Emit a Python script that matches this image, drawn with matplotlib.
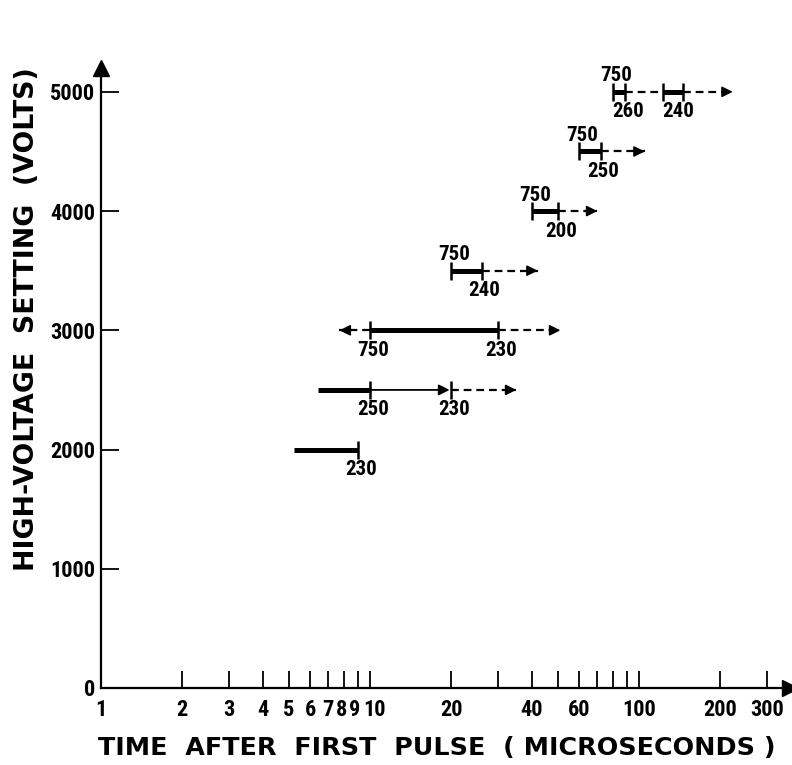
import matplotlib
matplotlib.use("Agg")
import matplotlib.pyplot as plt
from matplotlib import font_manager
from matplotlib.transforms import ScaledTranslation

# ---- data -------------------------------------------------------------
# heavy solid bars: high-voltage setting, start / end time (microseconds)
bar_volts = [2000, 2500, 3000, 3500, 4000, 4500, 5000, 5000]
bar_start = [5.2, 6.4, 10, 20, 40, 60, 80, 123]
bar_end = [9.0, 10, 30, 26, 50, 72, 89, 146]
bar_start_mark = [False, False, True, True, True, True, True, True]

# light solid arrow
thin_volts = [2500]
thin_start = [10]
thin_end = [20]

# dashed extensions
dash_volts = [2500, 3000, 3000, 3500, 4000, 4500, 5000, 5000]
dash_start = [20, 10, 30, 26, 50, 72, 89, 146]
dash_end = [35, 7.7, 51, 42, 70, 105, 123, 223]
dash_arrow = [True, True, True, True, True, True, False, True]

# annotations along the bars
lab_volts = [2000, 2500, 2500, 3000, 3000, 3500, 3500, 4000, 4000, 4500, 4500, 5000, 5000, 5000]
lab_x = [9.0, 10, 20, 10, 30, 20, 26, 40, 50, 60, 72, 80, 89, 136]
lab_text = ["230", "250", "230", "750", "230", "750", "240", "750", "200", "750", "250", "750", "260", "240"]
lab_side = ["below", "below", "below", "below", "below", "above", "below", "above", "below",
            "above", "below", "above", "below", "below"]

x_ticks = [1, 2, 3, 4, 5, 6, 7, 8, 9, 10, 20, 30, 40, 50, 60, 70, 80, 90, 100, 200, 300]
x_ticklabels = ["1", "2", "3", "4", "5", "6", "7", "8", "9", "10", "20", "", "40", "", "60",
                "", "", "", "100", "200", "300"]
y_ticks = [0, 1000, 2000, 3000, 4000, 5000]
y_ticklabels = ["0", "1000", "2000", "3000", "4000", "5000"]

# ---- fonts ------------------------------------------------------------
installed = {f.name for f in font_manager.fontManager.ttflist}
narrow_candidates = ["Roboto Condensed", "Archivo Narrow", "PT Sans Narrow",
                     "Liberation Sans Narrow", "Open Sans Condensed", "Barlow Condensed"]
narrow = next((n for n in narrow_candidates if n in installed), None)
if narrow is None:
    num_font = dict(family=["DejaVu Sans"], weight="bold", stretch="condensed")
    num_size = 13
else:
    num_font = dict(family=[narrow, "DejaVu Sans"], weight="bold")
    num_size = 16

# ---- figure -----------------------------------------------------------
fig = plt.figure(figsize=(7.92, 7.65), dpi=100)
ax = fig.add_axes([101 / 792, 77 / 765, 689 / 792, 620 / 765])
ax.set_xscale("log")
ax.set_xlim(1, 364)
ax.set_ylim(0, 5200)

for s in ("top", "right"):
    ax.spines[s].set_visible(False)
for s in ("left", "bottom"):
    ax.spines[s].set_linewidth(1.6)
    ax.spines[s].set_color("black")

# axis arrowheads
ax.plot([0], [1], marker="^", ms=11, color="black", transform=ax.transAxes, clip_on=False)
ax.plot([1], [0], marker=">", ms=11, color="black", transform=ax.transAxes, clip_on=False)

ax.set_xticks(x_ticks)
ax.set_xticklabels(x_ticklabels)
ax.minorticks_off()
ax.tick_params(axis="x", direction="in", length=12, width=1.3, pad=8)
ax.set_yticks(y_ticks)
ax.set_yticklabels(y_ticklabels)
ax.tick_params(axis="y", direction="in", length=13, width=1.3, pad=4)
for lab in ax.get_xticklabels() + ax.get_yticklabels():
    lab.set_fontfamily(num_font["family"])
    lab.set_fontweight("bold")
    if "stretch" in num_font:
        lab.set_fontstretch(num_font["stretch"])
    lab.set_fontsize(num_size)

# the crowded 8-9-10 labels get a little breathing room
nudge = {"8": -1.5, "9": -2.5, "10": 3.5}
for lab in ax.get_xticklabels():
    dx = nudge.get(lab.get_text())
    if dx:
        lab.set_transform(lab.get_transform() + ScaledTranslation(dx / 72, 0, fig.dpi_scale_trans))

fig.text(437 / 792, 1 - 748 / 765, "TIME  AFTER  FIRST  PULSE  ( MICROSECONDS )",
         fontsize=18.3, family="DejaVu Sans", weight="bold", ha="center", va="center")
fig.text(27 / 792, 1 - 319 / 765, "HIGH-VOLTAGE  SETTING  (VOLTS)",
         fontsize=19.3, family="DejaVu Sans", weight="bold", ha="center", va="center",
         rotation=90)

ink = "black"
bar_mark = dict(marker="|", ms=13, mew=1.8, color=ink, ls="none")

# heavy bars
for v, a, b, m in zip(bar_volts, bar_start, bar_end, bar_start_mark):
    ax.plot([a, b], [v, v], color=ink, lw=3.6, solid_capstyle="butt")
    ax.plot([b], [v], **bar_mark)
    if m:
        ax.plot([a], [v], **bar_mark)

# light arrows
for v, a, b in zip(thin_volts, thin_start, thin_end):
    ax.annotate("", xy=(b, v), xytext=(a, v),
                arrowprops=dict(arrowstyle="-|>", color=ink, lw=1.3,
                                mutation_scale=16, shrinkA=0, shrinkB=1))
    ax.plot([b], [v], **bar_mark)

# dashed extensions
for v, a, b, arr in zip(dash_volts, dash_start, dash_end, dash_arrow):
    ax.plot([a, b], [v, v], color=ink, lw=1.6, dashes=(3.5, 2.2))
    if arr:
        ratio = 0.93 if b > a else 1 / 0.93
        ax.annotate("", xy=(b, v), xytext=(b * ratio, v),
                    arrowprops=dict(arrowstyle="-|>", color=ink, lw=1.2,
                                    mutation_scale=16, shrinkA=0, shrinkB=0))

# numeric annotations
for v, x, t, side in zip(lab_volts, lab_x, lab_text, lab_side):
    dy = -20 if side == "below" else 16
    ax.annotate(t, xy=(x, v), xytext=(3, dy), textcoords="offset pixels",
                ha="center", va="center", fontsize=num_size - 1, **num_font)

fig.savefig("out.png", dpi=100)
